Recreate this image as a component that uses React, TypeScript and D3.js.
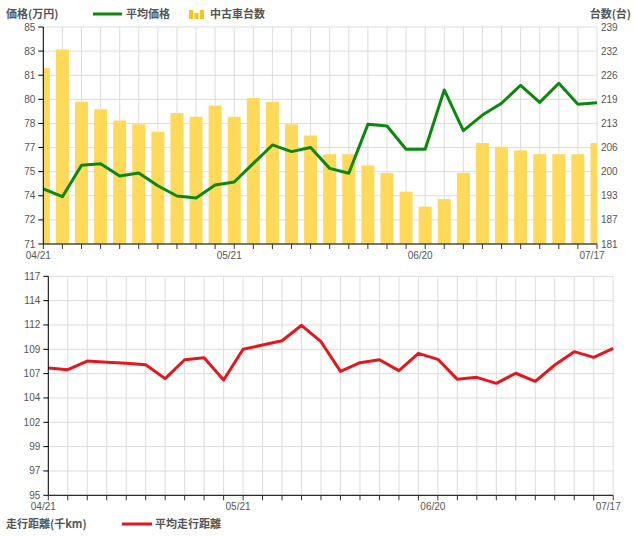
import React from "react";
import * as d3 from "d3";

const dates = ["04/21","04/24","04/27","04/30","05/03","05/06","05/09","05/12","05/15","05/18","05/21","05/24","05/27","05/30","06/02","06/05","06/08","06/11","06/14","06/17","06/20","06/23","06/26","06/29","07/02","07/05","07/08","07/11","07/14","07/17"];
const labelDates = ["04/21","05/21","06/20","07/17"];
const avgPrice = [74.55,74.05,76.08,76.18,75.39,75.58,74.76,74.1,73.97,74.81,75.0,76.2,77.39,76.96,77.22,75.88,75.56,78.72,78.61,77.11,77.11,80.94,78.31,79.32,80.08,81.24,80.14,81.37,80.01,80.12];
const carCount = [228,233,219,217,214,213,211,216,215,218,215,220,219,213,210,205,205,202,200,195,191,193,200,208,207,206,205,205,205,208];
const avgMileage = [107.79,107.62,108.49,108.36,108.26,108.12,106.72,108.62,108.82,106.58,109.67,110.1,110.53,112.08,110.43,107.45,108.32,108.62,107.52,109.26,108.66,106.65,106.85,106.25,107.26,106.45,108.09,109.43,108.86,109.77];
const priceDomain = [71, 85];
const countDomain = [181, 239];
const mileageDomain = [95, 117];
const tickCount = 10;

const FONT = "'Liberation Sans', Arial, sans-serif";
const CJK = "'Noto Sans CJK JP', 'Noto Sans', sans-serif";
const GREEN = "#0d870d";
const YELLOW = "#fed95a";
const RED = "#e5171c";
const GRID = "#dcdcdc";
const TXT = "#555";

function ticksOf(domain: number[]) {
  const [a, b] = domain;
  return d3.range(tickCount).map((i) => a + ((b - a) * i) / (tickCount - 1));
}

export default function App() {
  // top chart
  const t = { l: 43.3, r: 597, top: 27, bot: 244 };
  const xT = d3.scalePoint<string>().domain(dates).range([t.l, t.r]);
  const yP = d3.scaleLinear().domain(priceDomain).range([t.bot, t.top]);
  const yC = d3.scaleLinear().domain(countDomain).range([t.bot, t.top]);
  const barW = xT.step() * 0.68;
  const priceLine = d3.line<number>().x((_, i) => xT(dates[i])!).y((d) => yP(d));

  // bottom chart
  const b = { l: 48.3, r: 613.2, top: 276.3, bot: 495.3 };
  const xB = d3.scalePoint<string>().domain(dates).range([b.l, b.r]);
  const yM = d3.scaleLinear().domain(mileageDomain).range([b.bot, b.top]);
  const mileLine = d3.line<number>().x((_, i) => xB(dates[i])!).y((d) => yM(d));

  const pTicks = ticksOf(priceDomain);
  const cTicks = ticksOf(countDomain);
  const mTicks = ticksOf(mileageDomain);

  return (
    <svg width={638} height={536} style={{ position: "absolute", left: 0, top: 0, background: "#fff" }}>
      <defs>
        <clipPath id="clipTop">
          <rect x={t.l} y={t.top} width={t.r - t.l} height={t.bot - t.top} />
        </clipPath>
      </defs>

      {/* ===== top legend ===== */}
      <g fontFamily={CJK} fontSize={11} fontWeight="bold" fill={TXT}>
        <text x={6} y={18}>価格(万円)</text>
        <line x1={93} x2={122} y1={14} y2={14} stroke={GREEN} strokeWidth={3} />
        <text x={126} y={18}>平均価格</text>
        <rect x={189} y={10} width={4} height={9} fill="#f5c518" />
        <rect x={194.5} y={13} width={4} height={6} fill="#f5c518" />
        <rect x={200} y={10} width={4} height={9} fill="#f5c518" />
        <text x={210} y={18}>中古車台数</text>
        <text x={631} y={18} textAnchor="end">台数(台)</text>
      </g>

      {/* ===== top chart grid ===== */}
      <g>
        {pTicks.map((v, i) => (
          <line key={"hg" + i} x1={t.l} x2={t.r} y1={yP(v)} y2={yP(v)} stroke={GRID} />
        ))}
        {dates.map((d) => (
          <line key={"vg" + d} x1={xT(d)} x2={xT(d)} y1={t.top} y2={t.bot} stroke={GRID} />
        ))}
      </g>
      <g clipPath="url(#clipTop)">
        {carCount.map((v, i) => (
          <rect key={"bar" + i} x={xT(dates[i])! - barW / 2} width={barW} y={yC(v)} height={t.bot - yC(v)} fill={YELLOW} />
        ))}
      </g>
      <path d={priceLine(avgPrice)!} fill="none" stroke={GREEN} strokeWidth={3} strokeLinejoin="round" />

      {/* top axes */}
      <g fontFamily={FONT} fontSize={10} fill={TXT}>
        <line x1={t.l} x2={t.l} y1={t.top} y2={t.bot} stroke="#000" />
        {pTicks.map((v, i) => (
          <g key={"pt" + i}>
            <line x1={t.l - 5} x2={t.l} y1={yP(v)} y2={yP(v)} stroke="#000" />
            <text x={t.l - 8} y={yP(v)} dy="0.35em" textAnchor="end">{Math.floor(v + 1e-9)}</text>
          </g>
        ))}
        {cTicks.map((v, i) => (
          <text key={"ct" + i} x={t.r + 4} y={yC(v)} dy="0.35em" textAnchor="start">{Math.floor(v + 1e-9)}</text>
        ))}
        <line x1={t.l} x2={t.r} y1={t.bot} y2={t.bot} stroke="#000" />
        {dates.map((d) => (
          <line key={"xt" + d} x1={xT(d)} x2={xT(d)} y1={t.bot} y2={t.bot + 5} stroke="#333" />
        ))}
        {labelDates.map((d) => (
          <text key={"xl" + d} x={xT(d)! - 5} y={t.bot + 11} dy="0.35em" textAnchor="middle">{d}</text>
        ))}
      </g>

      {/* ===== bottom chart ===== */}
      <g>
        {mTicks.map((v, i) => (
          <line key={"mhg" + i} x1={b.l} x2={b.r} y1={yM(v)} y2={yM(v)} stroke={GRID} />
        ))}
        {dates.map((d) => (
          <line key={"mvg" + d} x1={xB(d)} x2={xB(d)} y1={b.top} y2={b.bot} stroke={GRID} />
        ))}
      </g>
      <path d={mileLine(avgMileage)!} fill="none" stroke={RED} strokeWidth={3} strokeLinejoin="round" />
      <g fontFamily={FONT} fontSize={10} fill={TXT}>
        <line x1={b.l} x2={b.l} y1={b.top} y2={b.bot} stroke="#000" />
        {mTicks.map((v, i) => (
          <g key={"mt" + i}>
            <line x1={b.l - 5} x2={b.l} y1={yM(v)} y2={yM(v)} stroke="#000" />
            <text x={b.l - 8} y={yM(v)} dy="0.35em" textAnchor="end">{Math.floor(v + 1e-9)}</text>
          </g>
        ))}
        <line x1={b.l} x2={b.r} y1={b.bot} y2={b.bot} stroke="#000" />
        {dates.map((d) => (
          <line key={"mxt" + d} x1={xB(d)} x2={xB(d)} y1={b.bot} y2={b.bot + 5} stroke="#333" />
        ))}
        {labelDates.map((d) => (
          <text key={"mxl" + d} x={xB(d)! - 5} y={b.bot + 11} dy="0.35em" textAnchor="middle">{d}</text>
        ))}
      </g>

      {/* bottom legend */}
      <g fontFamily={CJK} fontSize={11} fontWeight="bold" fill={TXT}>
        <text x={6} y={528}>走行距離(千km)</text>
        <line x1={122} x2={152} y1={524} y2={524} stroke={RED} strokeWidth={3} />
        <text x={155} y={528}>平均走行距離</text>
      </g>
    </svg>
  );
}
